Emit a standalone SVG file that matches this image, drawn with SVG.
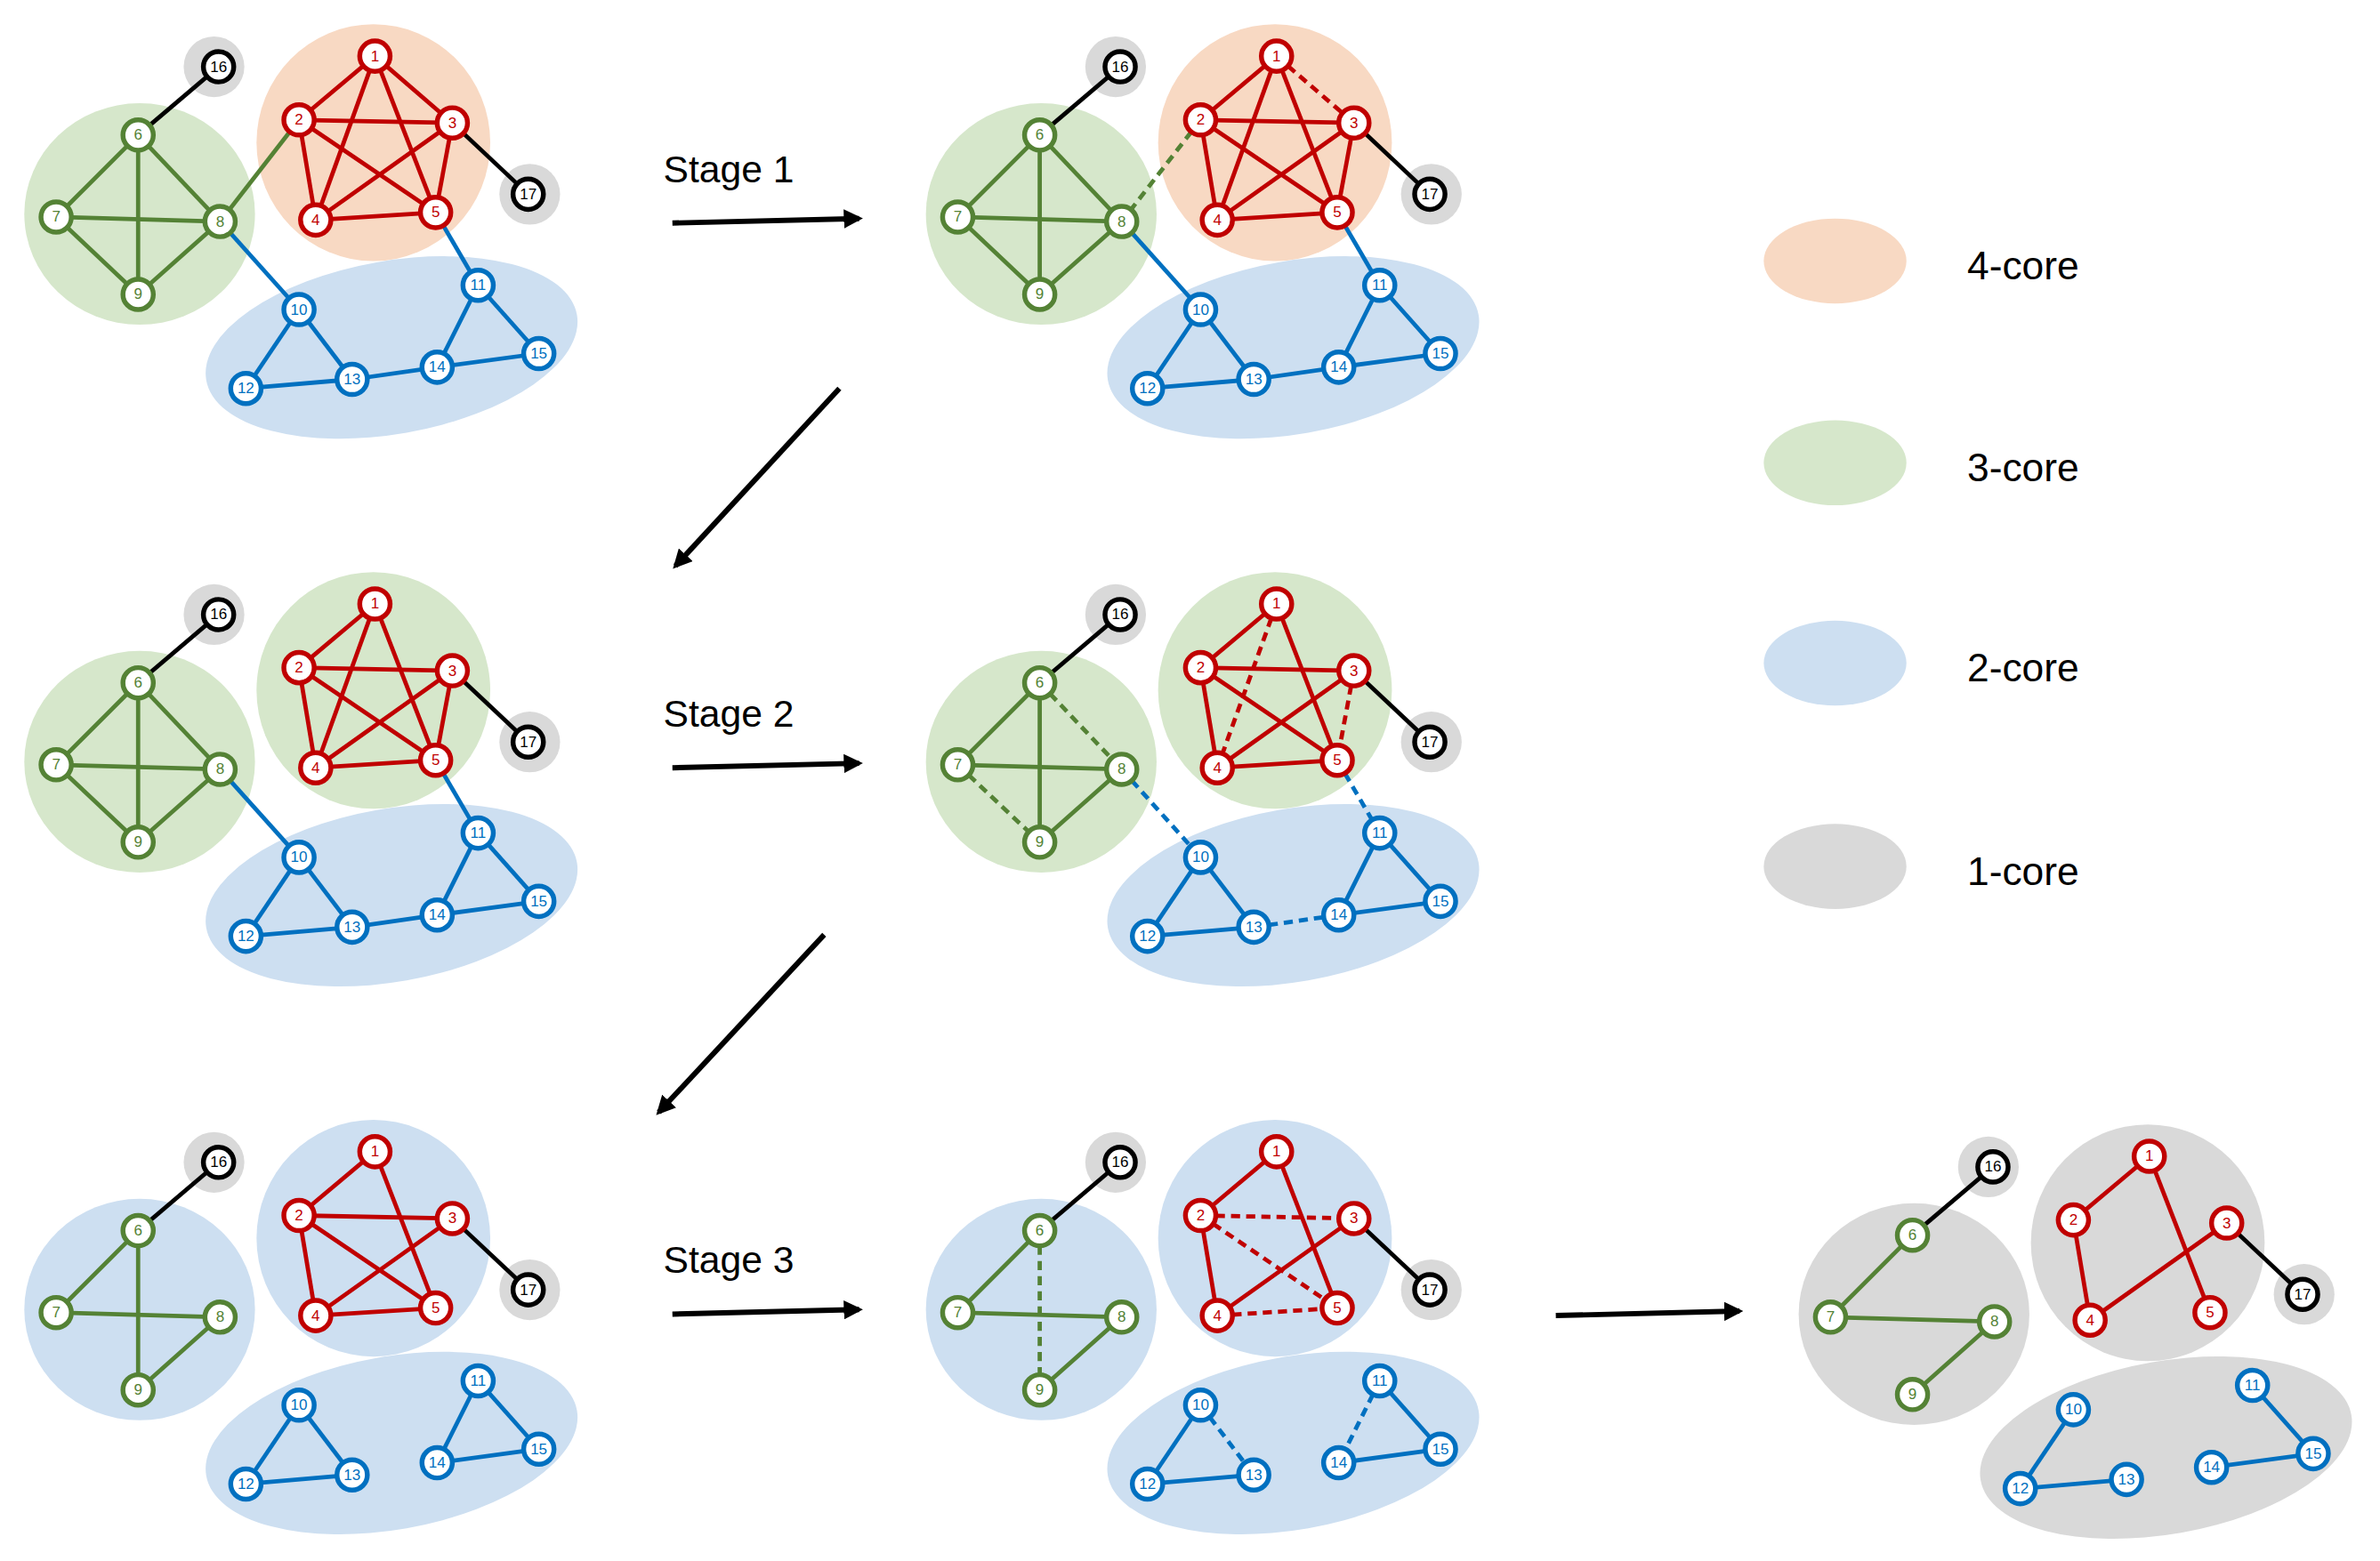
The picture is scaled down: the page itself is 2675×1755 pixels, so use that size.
<svg xmlns="http://www.w3.org/2000/svg" xmlns:xlink="http://www.w3.org/1999/xlink" width="2675" height="1755" viewBox="0 0 2675 1755">
<style>
.e{stroke-width:2.8;fill:none}
.d{stroke-dasharray:6 4}
.er{stroke:#C00000}.eg{stroke:#548235}.eb{stroke:#0070C0}.ek{stroke:#000}
.n{fill:#fff;stroke-width:3.2}
.nr{stroke:#C00000}.ng{stroke:#548235}.nb{stroke:#0070C0}.nk{stroke:#000}
.t{font-family:"Liberation Sans",Arial,sans-serif;font-size:10px;text-anchor:middle;dominant-baseline:central}
.tr{fill:#C00000}.tg{fill:#548235}.tb{fill:#0070C0}.tk{fill:#000}
.cO{fill:#F8D9C3}.cG{fill:#D6E7CB}.cB{fill:#CDDFF1}.cY{fill:#D9D9D9}
.lab{font-family:"Liberation Sans",Arial,sans-serif;font-size:25px;fill:#000}
.leg{font-family:"Liberation Sans",Arial,sans-serif;font-size:26px;fill:#000}
.ar{stroke:#000;stroke-width:3.5;fill:none;marker-end:url(#ah)}
</style>
<defs>
<marker id="ah" viewBox="0 0 10 10" refX="8" refY="5" markerWidth="3.6" markerHeight="3.6" orient="auto" markerUnits="strokeWidth"><path d="M0,0 L10,5 L0,10 z" fill="#000"/></marker>
<g id="nodes">
<g><circle class="n nr" cx="247" cy="37" r="10"/><text class="t tr" x="247" y="37">1</text></g>
<g><circle class="n nr" cx="197" cy="79" r="10"/><text class="t tr" x="197" y="79">2</text></g>
<g><circle class="n nr" cx="298" cy="81" r="10"/><text class="t tr" x="298" y="81">3</text></g>
<g><circle class="n nr" cx="208" cy="145" r="10"/><text class="t tr" x="208" y="145">4</text></g>
<g><circle class="n nr" cx="287" cy="140" r="10"/><text class="t tr" x="287" y="140">5</text></g>
<g><circle class="n ng" cx="91" cy="89" r="10"/><text class="t tg" x="91" y="89">6</text></g>
<g><circle class="n ng" cx="37" cy="143" r="10"/><text class="t tg" x="37" y="143">7</text></g>
<g><circle class="n ng" cx="145" cy="146" r="10"/><text class="t tg" x="145" y="146">8</text></g>
<g><circle class="n ng" cx="91" cy="194" r="10"/><text class="t tg" x="91" y="194">9</text></g>
<g><circle class="n nb" cx="197" cy="204" r="10"/><text class="t tb" x="197" y="204">10</text></g>
<g><circle class="n nb" cx="315" cy="188" r="10"/><text class="t tb" x="315" y="188">11</text></g>
<g><circle class="n nb" cx="162" cy="256" r="10"/><text class="t tb" x="162" y="256">12</text></g>
<g><circle class="n nb" cx="232" cy="250" r="10"/><text class="t tb" x="232" y="250">13</text></g>
<g><circle class="n nb" cx="288" cy="242" r="10"/><text class="t tb" x="288" y="242">14</text></g>
<g><circle class="n nb" cx="355" cy="233" r="10"/><text class="t tb" x="355" y="233">15</text></g>
<g><circle class="n nk" cx="144" cy="44" r="10"/><text class="t tk" x="144" y="44">16</text></g>
<g><circle class="n nk" cx="348" cy="128" r="10"/><text class="t tk" x="348" y="128">17</text></g>
</g>
</defs>
<rect width="2675" height="1755" fill="#fff"/>
<g transform="scale(1.706)">

<!-- Panel 1 -->
<g id="panel1">
<g id="p1-blobs"><ellipse class="cG" cx="92" cy="141" rx="76" ry="73"/><ellipse class="cO" cx="246" cy="94" rx="77" ry="78"/><ellipse class="cB" cx="258" cy="229" rx="124" ry="57" transform="rotate(-10 258 229)"/><circle class="cY" cx="141" cy="44" r="20"/><circle class="cY" cx="349" cy="128" r="20"/></g>
<g id="p1-connectors">
<line class="e eg" x1="91" y1="89" x2="37" y2="143"/><line class="e eg" x1="91" y1="89" x2="145" y2="146"/><line class="e eg" x1="91" y1="89" x2="91" y2="194"/><line class="e eg" x1="37" y1="143" x2="145" y2="146"/><line class="e eg" x1="37" y1="143" x2="91" y2="194"/><line class="e eg" x1="145" y1="146" x2="91" y2="194"/>
<line class="e er" x1="247" y1="37" x2="197" y2="79"/><line class="e er" x1="247" y1="37" x2="298" y2="81"/><line class="e er" x1="247" y1="37" x2="208" y2="145"/><line class="e er" x1="247" y1="37" x2="287" y2="140"/><line class="e er" x1="197" y1="79" x2="298" y2="81"/><line class="e er" x1="197" y1="79" x2="208" y2="145"/><line class="e er" x1="197" y1="79" x2="287" y2="140"/><line class="e er" x1="298" y1="81" x2="208" y2="145"/><line class="e er" x1="298" y1="81" x2="287" y2="140"/><line class="e er" x1="208" y1="145" x2="287" y2="140"/>
<line class="e eg" x1="197" y1="79" x2="145" y2="146"/>
<line class="e eb" x1="145" y1="146" x2="197" y2="204"/><line class="e eb" x1="287" y1="140" x2="315" y2="188"/>
<line class="e eb" x1="197" y1="204" x2="162" y2="256"/><line class="e eb" x1="197" y1="204" x2="232" y2="250"/><line class="e eb" x1="162" y1="256" x2="232" y2="250"/><line class="e eb" x1="232" y1="250" x2="288" y2="242"/><line class="e eb" x1="315" y1="188" x2="288" y2="242"/><line class="e eb" x1="315" y1="188" x2="355" y2="233"/><line class="e eb" x1="288" y1="242" x2="355" y2="233"/>
<line class="e ek" x1="91" y1="89" x2="144" y2="44"/><line class="e ek" x1="298" y1="81" x2="348" y2="128"/>
</g>
<use id="p1-nodes" xlink:href="#nodes"/>
</g>

<!-- Panel 2 -->
<g id="panel2" transform="translate(594,0)">
<g id="p2-blobs"><ellipse class="cG" cx="92" cy="141" rx="76" ry="73"/><ellipse class="cO" cx="246" cy="94" rx="77" ry="78"/><ellipse class="cB" cx="258" cy="229" rx="124" ry="57" transform="rotate(-10 258 229)"/><circle class="cY" cx="141" cy="44" r="20"/><circle class="cY" cx="349" cy="128" r="20"/></g>
<g id="p2-connectors">
<line class="e eg" x1="91" y1="89" x2="37" y2="143"/><line class="e eg" x1="91" y1="89" x2="145" y2="146"/><line class="e eg" x1="91" y1="89" x2="91" y2="194"/><line class="e eg" x1="37" y1="143" x2="145" y2="146"/><line class="e eg" x1="37" y1="143" x2="91" y2="194"/><line class="e eg" x1="145" y1="146" x2="91" y2="194"/>
<line class="e er" x1="247" y1="37" x2="197" y2="79"/><line class="e er d" x1="247" y1="37" x2="298" y2="81"/><line class="e er" x1="247" y1="37" x2="208" y2="145"/><line class="e er" x1="247" y1="37" x2="287" y2="140"/><line class="e er" x1="197" y1="79" x2="298" y2="81"/><line class="e er" x1="197" y1="79" x2="208" y2="145"/><line class="e er" x1="197" y1="79" x2="287" y2="140"/><line class="e er" x1="298" y1="81" x2="208" y2="145"/><line class="e er" x1="298" y1="81" x2="287" y2="140"/><line class="e er" x1="208" y1="145" x2="287" y2="140"/>
<line class="e eg d" x1="197" y1="79" x2="145" y2="146"/>
<line class="e eb" x1="145" y1="146" x2="197" y2="204"/><line class="e eb" x1="287" y1="140" x2="315" y2="188"/>
<line class="e eb" x1="197" y1="204" x2="162" y2="256"/><line class="e eb" x1="197" y1="204" x2="232" y2="250"/><line class="e eb" x1="162" y1="256" x2="232" y2="250"/><line class="e eb" x1="232" y1="250" x2="288" y2="242"/><line class="e eb" x1="315" y1="188" x2="288" y2="242"/><line class="e eb" x1="315" y1="188" x2="355" y2="233"/><line class="e eb" x1="288" y1="242" x2="355" y2="233"/>
<line class="e ek" x1="91" y1="89" x2="144" y2="44"/><line class="e ek" x1="298" y1="81" x2="348" y2="128"/>
</g>
<use id="p2-nodes" xlink:href="#nodes"/>
</g>

<!-- Panel 3 -->
<g id="panel3" transform="translate(0,361)">
<g id="p3-blobs"><ellipse class="cG" cx="92" cy="141" rx="76" ry="73"/><ellipse class="cG" cx="246" cy="94" rx="77" ry="78"/><ellipse class="cB" cx="258" cy="229" rx="124" ry="57" transform="rotate(-10 258 229)"/><circle class="cY" cx="141" cy="44" r="20"/><circle class="cY" cx="349" cy="128" r="20"/></g>
<g id="p3-connectors">
<line class="e eg" x1="91" y1="89" x2="37" y2="143"/><line class="e eg" x1="91" y1="89" x2="145" y2="146"/><line class="e eg" x1="91" y1="89" x2="91" y2="194"/><line class="e eg" x1="37" y1="143" x2="145" y2="146"/><line class="e eg" x1="37" y1="143" x2="91" y2="194"/><line class="e eg" x1="145" y1="146" x2="91" y2="194"/>
<line class="e er" x1="247" y1="37" x2="197" y2="79"/><line class="e er" x1="247" y1="37" x2="208" y2="145"/><line class="e er" x1="247" y1="37" x2="287" y2="140"/><line class="e er" x1="197" y1="79" x2="298" y2="81"/><line class="e er" x1="197" y1="79" x2="208" y2="145"/><line class="e er" x1="197" y1="79" x2="287" y2="140"/><line class="e er" x1="298" y1="81" x2="208" y2="145"/><line class="e er" x1="298" y1="81" x2="287" y2="140"/><line class="e er" x1="208" y1="145" x2="287" y2="140"/>
<line class="e eb" x1="145" y1="146" x2="197" y2="204"/><line class="e eb" x1="287" y1="140" x2="315" y2="188"/>
<line class="e eb" x1="197" y1="204" x2="162" y2="256"/><line class="e eb" x1="197" y1="204" x2="232" y2="250"/><line class="e eb" x1="162" y1="256" x2="232" y2="250"/><line class="e eb" x1="232" y1="250" x2="288" y2="242"/><line class="e eb" x1="315" y1="188" x2="288" y2="242"/><line class="e eb" x1="315" y1="188" x2="355" y2="233"/><line class="e eb" x1="288" y1="242" x2="355" y2="233"/>
<line class="e ek" x1="91" y1="89" x2="144" y2="44"/><line class="e ek" x1="298" y1="81" x2="348" y2="128"/>
</g>
<use id="p3-nodes" xlink:href="#nodes"/>
</g>

<!-- Panel 4 -->
<g id="panel4" transform="translate(594,361)">
<g id="p4-blobs"><ellipse class="cG" cx="92" cy="141" rx="76" ry="73"/><ellipse class="cG" cx="246" cy="94" rx="77" ry="78"/><ellipse class="cB" cx="258" cy="229" rx="124" ry="57" transform="rotate(-10 258 229)"/><circle class="cY" cx="141" cy="44" r="20"/><circle class="cY" cx="349" cy="128" r="20"/></g>
<g id="p4-connectors">
<line class="e eg" x1="91" y1="89" x2="37" y2="143"/><line class="e eg d" x1="91" y1="89" x2="145" y2="146"/><line class="e eg" x1="91" y1="89" x2="91" y2="194"/><line class="e eg" x1="37" y1="143" x2="145" y2="146"/><line class="e eg d" x1="37" y1="143" x2="91" y2="194"/><line class="e eg" x1="145" y1="146" x2="91" y2="194"/>
<line class="e er" x1="247" y1="37" x2="197" y2="79"/><line class="e er d" x1="247" y1="37" x2="208" y2="145"/><line class="e er" x1="247" y1="37" x2="287" y2="140"/><line class="e er" x1="197" y1="79" x2="298" y2="81"/><line class="e er" x1="197" y1="79" x2="208" y2="145"/><line class="e er" x1="197" y1="79" x2="287" y2="140"/><line class="e er" x1="298" y1="81" x2="208" y2="145"/><line class="e er d" x1="298" y1="81" x2="287" y2="140"/><line class="e er" x1="208" y1="145" x2="287" y2="140"/>
<line class="e eb d" x1="145" y1="146" x2="197" y2="204"/><line class="e eb d" x1="287" y1="140" x2="315" y2="188"/>
<line class="e eb" x1="197" y1="204" x2="162" y2="256"/><line class="e eb" x1="197" y1="204" x2="232" y2="250"/><line class="e eb" x1="162" y1="256" x2="232" y2="250"/><line class="e eb d" x1="232" y1="250" x2="288" y2="242"/><line class="e eb" x1="315" y1="188" x2="288" y2="242"/><line class="e eb" x1="315" y1="188" x2="355" y2="233"/><line class="e eb" x1="288" y1="242" x2="355" y2="233"/>
<line class="e ek" x1="91" y1="89" x2="144" y2="44"/><line class="e ek" x1="298" y1="81" x2="348" y2="128"/>
</g>
<use id="p4-nodes" xlink:href="#nodes"/>
</g>

<!-- Panel 5 -->
<g id="panel5" transform="translate(0,722)">
<g id="p5-blobs"><ellipse class="cB" cx="92" cy="141" rx="76" ry="73"/><ellipse class="cB" cx="246" cy="94" rx="77" ry="78"/><ellipse class="cB" cx="258" cy="229" rx="124" ry="57" transform="rotate(-10 258 229)"/><circle class="cY" cx="141" cy="44" r="20"/><circle class="cY" cx="349" cy="128" r="20"/></g>
<g id="p5-connectors">
<line class="e eg" x1="91" y1="89" x2="37" y2="143"/><line class="e eg" x1="91" y1="89" x2="91" y2="194"/><line class="e eg" x1="37" y1="143" x2="145" y2="146"/><line class="e eg" x1="145" y1="146" x2="91" y2="194"/>
<line class="e er" x1="247" y1="37" x2="197" y2="79"/><line class="e er" x1="247" y1="37" x2="287" y2="140"/><line class="e er" x1="197" y1="79" x2="298" y2="81"/><line class="e er" x1="197" y1="79" x2="208" y2="145"/><line class="e er" x1="197" y1="79" x2="287" y2="140"/><line class="e er" x1="298" y1="81" x2="208" y2="145"/><line class="e er" x1="208" y1="145" x2="287" y2="140"/>
<line class="e eb" x1="197" y1="204" x2="162" y2="256"/><line class="e eb" x1="197" y1="204" x2="232" y2="250"/><line class="e eb" x1="162" y1="256" x2="232" y2="250"/><line class="e eb" x1="315" y1="188" x2="288" y2="242"/><line class="e eb" x1="315" y1="188" x2="355" y2="233"/><line class="e eb" x1="288" y1="242" x2="355" y2="233"/>
<line class="e ek" x1="91" y1="89" x2="144" y2="44"/><line class="e ek" x1="298" y1="81" x2="348" y2="128"/>
</g>
<use id="p5-nodes" xlink:href="#nodes"/>
</g>

<!-- Panel 6 -->
<g id="panel6" transform="translate(594,722)">
<g id="p6-blobs"><ellipse class="cB" cx="92" cy="141" rx="76" ry="73"/><ellipse class="cB" cx="246" cy="94" rx="77" ry="78"/><ellipse class="cB" cx="258" cy="229" rx="124" ry="57" transform="rotate(-10 258 229)"/><circle class="cY" cx="141" cy="44" r="20"/><circle class="cY" cx="349" cy="128" r="20"/></g>
<g id="p6-connectors">
<line class="e eg" x1="91" y1="89" x2="37" y2="143"/><line class="e eg d" x1="91" y1="89" x2="91" y2="194"/><line class="e eg" x1="37" y1="143" x2="145" y2="146"/><line class="e eg" x1="145" y1="146" x2="91" y2="194"/>
<line class="e er" x1="247" y1="37" x2="197" y2="79"/><line class="e er" x1="247" y1="37" x2="287" y2="140"/><line class="e er d" x1="197" y1="79" x2="298" y2="81"/><line class="e er" x1="197" y1="79" x2="208" y2="145"/><line class="e er d" x1="197" y1="79" x2="287" y2="140"/><line class="e er" x1="298" y1="81" x2="208" y2="145"/><line class="e er d" x1="208" y1="145" x2="287" y2="140"/>
<line class="e eb" x1="197" y1="204" x2="162" y2="256"/><line class="e eb d" x1="197" y1="204" x2="232" y2="250"/><line class="e eb" x1="162" y1="256" x2="232" y2="250"/><line class="e eb d" x1="315" y1="188" x2="288" y2="242"/><line class="e eb" x1="315" y1="188" x2="355" y2="233"/><line class="e eb" x1="288" y1="242" x2="355" y2="233"/>
<line class="e ek" x1="91" y1="89" x2="144" y2="44"/><line class="e ek" x1="298" y1="81" x2="348" y2="128"/>
</g>
<use id="p6-nodes" xlink:href="#nodes"/>
</g>

<!-- Panel 7 -->
<g id="panel7" transform="translate(1169,725)">
<g id="p7-blobs"><ellipse class="cY" cx="92" cy="141" rx="76" ry="73"/><ellipse class="cY" cx="246" cy="94" rx="77" ry="78"/><ellipse class="cY" cx="258" cy="229" rx="124" ry="57" transform="rotate(-10 258 229)"/><circle class="cY" cx="141" cy="44" r="20"/><circle class="cY" cx="349" cy="128" r="20"/></g>
<g id="p7-connectors">
<line class="e eg" x1="91" y1="89" x2="37" y2="143"/><line class="e eg" x1="37" y1="143" x2="145" y2="146"/><line class="e eg" x1="145" y1="146" x2="91" y2="194"/>
<line class="e er" x1="247" y1="37" x2="197" y2="79"/><line class="e er" x1="247" y1="37" x2="287" y2="140"/><line class="e er" x1="197" y1="79" x2="208" y2="145"/><line class="e er" x1="298" y1="81" x2="208" y2="145"/>
<line class="e eb" x1="197" y1="204" x2="162" y2="256"/><line class="e eb" x1="162" y1="256" x2="232" y2="250"/><line class="e eb" x1="315" y1="188" x2="355" y2="233"/><line class="e eb" x1="288" y1="242" x2="355" y2="233"/>
<line class="e ek" x1="91" y1="89" x2="144" y2="44"/><line class="e ek" x1="298" y1="81" x2="348" y2="128"/>
</g>
<use id="p7-nodes" xlink:href="#nodes"/>
</g>

<!-- Stage arrows -->
<g id="arrows">
<line class="ar" x1="443" y1="147" x2="566" y2="144"/>
<line class="ar" x1="443" y1="506" x2="566" y2="503"/>
<line class="ar" x1="443" y1="866" x2="566" y2="863"/>
<line class="ar" x1="553" y1="256" x2="445" y2="373"/>
<line class="ar" x1="543" y1="616" x2="434" y2="733"/>
<line class="ar" x1="1025" y1="867" x2="1146" y2="864"/>
</g>
<g id="stage-labels">
<text class="lab" x="437" y="120">Stage 1</text>
<text class="lab" x="437" y="479">Stage 2</text>
<text class="lab" x="437" y="839">Stage 3</text>
</g>

<!-- Legend -->
<g id="legend">
<g id="leg4"><ellipse class="cO" cx="1209" cy="172" rx="47" ry="28"/><text class="leg" x="1296" y="184">4-core</text></g>
<g id="leg3"><ellipse class="cG" cx="1209" cy="305" rx="47" ry="28"/><text class="leg" x="1296" y="317">3-core</text></g>
<g id="leg2"><ellipse class="cB" cx="1209" cy="437" rx="47" ry="28"/><text class="leg" x="1296" y="449">2-core</text></g>
<g id="leg1"><ellipse class="cY" cx="1209" cy="571" rx="47" ry="28"/><text class="leg" x="1296" y="583">1-core</text></g>
</g>
</g>
</svg>
